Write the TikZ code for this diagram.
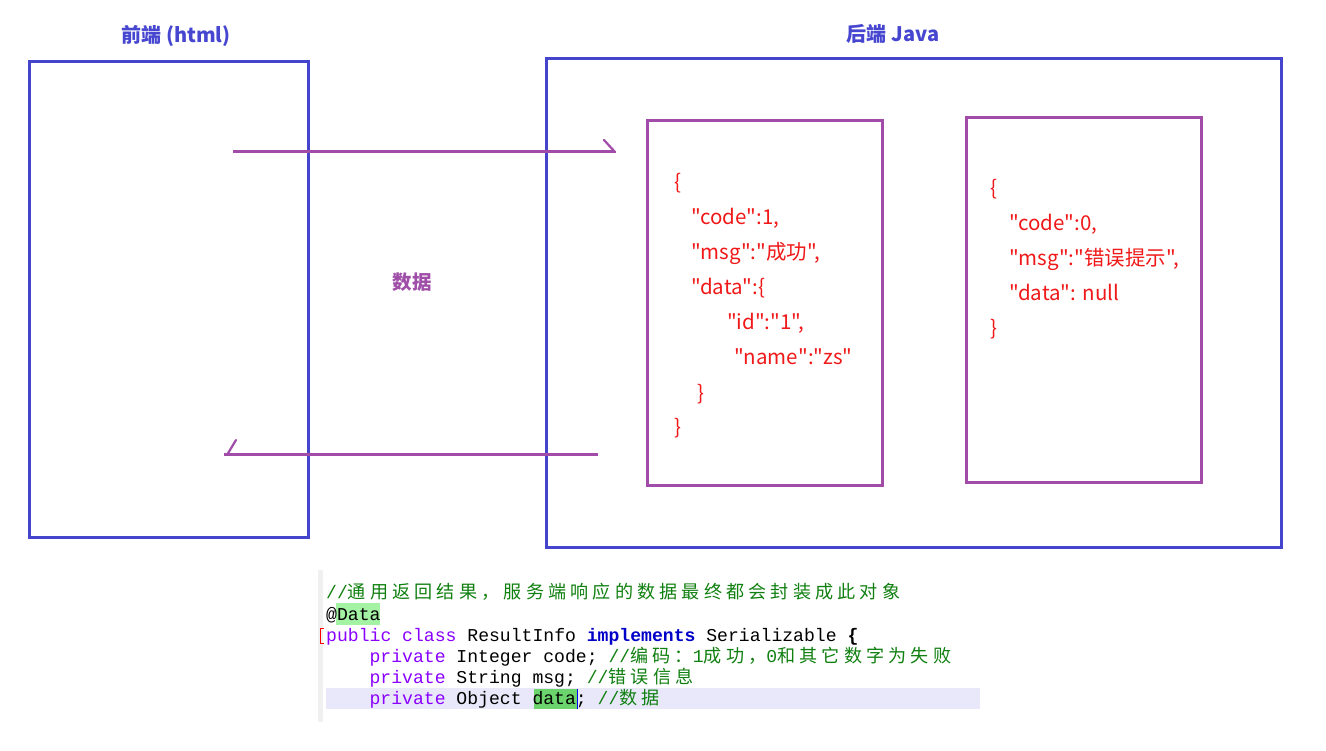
\documentclass[tikz,border=0pt]{standalone}
\usepackage{fontspec}
\setmainfont[Ligatures=TeXOff]{Noto Sans CJK SC}
\setmonofont{Liberation Mono}
\newfontfamily\jsfont[Ligatures=TeXOff]{Noto Sans CJK SC}
\newfontfamily\cjc[LetterSpace=23]{Noto Sans CJK SC}
\newcommand\zh[1]{{\cjc #1}}
\definecolor{bxblue}{HTML}{4444CC}
\definecolor{bxpurple}{HTML}{A04CA8}
\definecolor{ttlblue}{HTML}{4646D0}
\definecolor{lblpurple}{HTML}{9F4FA8}
\definecolor{jsred}{HTML}{F01818}
\definecolor{cmgreen}{HTML}{108010}
\definecolor{kwpurple}{HTML}{8A00FF}
\definecolor{impblue}{HTML}{0000C8}
\definecolor{hlline}{HTML}{E8E8FA}
\definecolor{hlgreen}{HTML}{A4F2A4}
\definecolor{hlgreen2}{HTML}{6CD46C}
\tikzset{
  bluebox/.style={draw=bxblue, line width=3pt},
  purplebox/.style={draw=bxpurple, line width=3pt},
  flow/.style={draw=bxpurple, line width=3pt},
  barb/.style={draw=bxpurple, line width=2.2pt, line cap=round},
  title/.style={font=\fontsize{20}{24}\selectfont\bfseries, text=ttlblue, inner sep=0pt},
  json/.style={anchor=base west, inner sep=0pt, text=jsred, font=\fontsize{20.5}{24}\selectfont\jsfont},
  code/.style={anchor=base west, inner sep=0pt, text=black, font=\fontsize{18.1}{21}\selectfont\ttfamily},
}
\begin{document}
\begin{tikzpicture}[x=1pt,y=-1pt]
\useasboundingbox (0,0) rectangle (1326,751);
\fill[white] (0,0) rectangle (1326,751);

% titles
\node[title] (tfront) at (176,36) {前端 (html)};
\node[title] (tback) at (893,34) {后端 Java};

% boxes
\draw[bluebox] (29,62) rectangle (308,537);
\draw[bluebox] (546,59) rectangle (1281,547);
\draw[purplebox] (647,121) rectangle (882,485);
\draw[purplebox] (966,118) rectangle (1201,482);

% arrows
\coordinate (a1s) at (233,152);
\coordinate (a1e) at (615,152);
\coordinate (a1b) at (604,140);
\draw[flow] (a1s) -- (a1e);
\draw[barb] (a1b) -- (a1e);
\coordinate (a2s) at (598,454);
\coordinate (a2e) at (224,454);
\coordinate (a2b) at (236,440);
\coordinate (a2t) at (227,455);
\draw[flow] (a2s) -- (a2e);
\draw[barb] (a2b) -- (a2t);

\node[font=\fontsize{19.5}{24}\selectfont\bfseries, text=lblpurple, inner sep=0pt] (lbl) at (412,282) {数据};

% JSON success
\node[json] (j1) at (674,190) {\{};
\node[json] (j2) at (691,225) {"code":1,};
\node[json] (j3) at (691,260) {"msg":"成功",};
\node[json] (j4) at (691,295) {"data":\{};
\node[json] (j5) at (727,330) {"id":"1",};
\node[json] (j6) at (734,365) {"name":"zs"};
\node[json] (j7) at (697,400) {\}};
\node[json] (j8) at (674,435) {\}};

% JSON error
\node[json] (k1) at (990,196) {\{};
\node[json] (k2) at (1009,231) {"code":0,};
\node[json] (k3) at (1009,266) {"msg":"错误提示",};
\node[json] (k4) at (1009,301) {"data": null};
\node[json] (k5) at (990,336) {\}};

% code block
\fill[gray!12] (318,570) rectangle (323,722);
\fill[hlline] (326,688) rectangle (980,709);
\fill[hlgreen] (336,603) rectangle (380,625);
\fill[hlgreen2] (534,689) rectangle (577,709);
\draw[red, line width=1pt] (324,628) -- (320.5,628) -- (320.5,643) -- (324,643);
\draw[blue, line width=0.8pt] (577.5,689) -- (577.5,709);

\node[code, text=cmgreen] (c1) at (326,598) {//\zh{通用返回结果，服务端响应的数据最终都会封装成此对象}};
\node[code] (c2) at (326,620) {@Data};
\node[code] (c3) at (326,641) {\textcolor{kwpurple}{public class} ResultInfo \textcolor{impblue}{\bfseries implements} Serializable \textbf{\{}};
\node[code] (c4) at (369.4,662) {\textcolor{kwpurple}{private} Integer code; \textcolor{cmgreen}{//\zh{编码：}1\zh{成功，}0\zh{和其它数字为失败}}};
\node[code] (c5) at (369.4,683) {\textcolor{kwpurple}{private} String msg; \textcolor{cmgreen}{//\zh{错误信息}}};
\node[code] (c6) at (369.4,704) {\textcolor{kwpurple}{private} Object data; \textcolor{cmgreen}{//\zh{数据}}};
\end{tikzpicture}
\end{document}
